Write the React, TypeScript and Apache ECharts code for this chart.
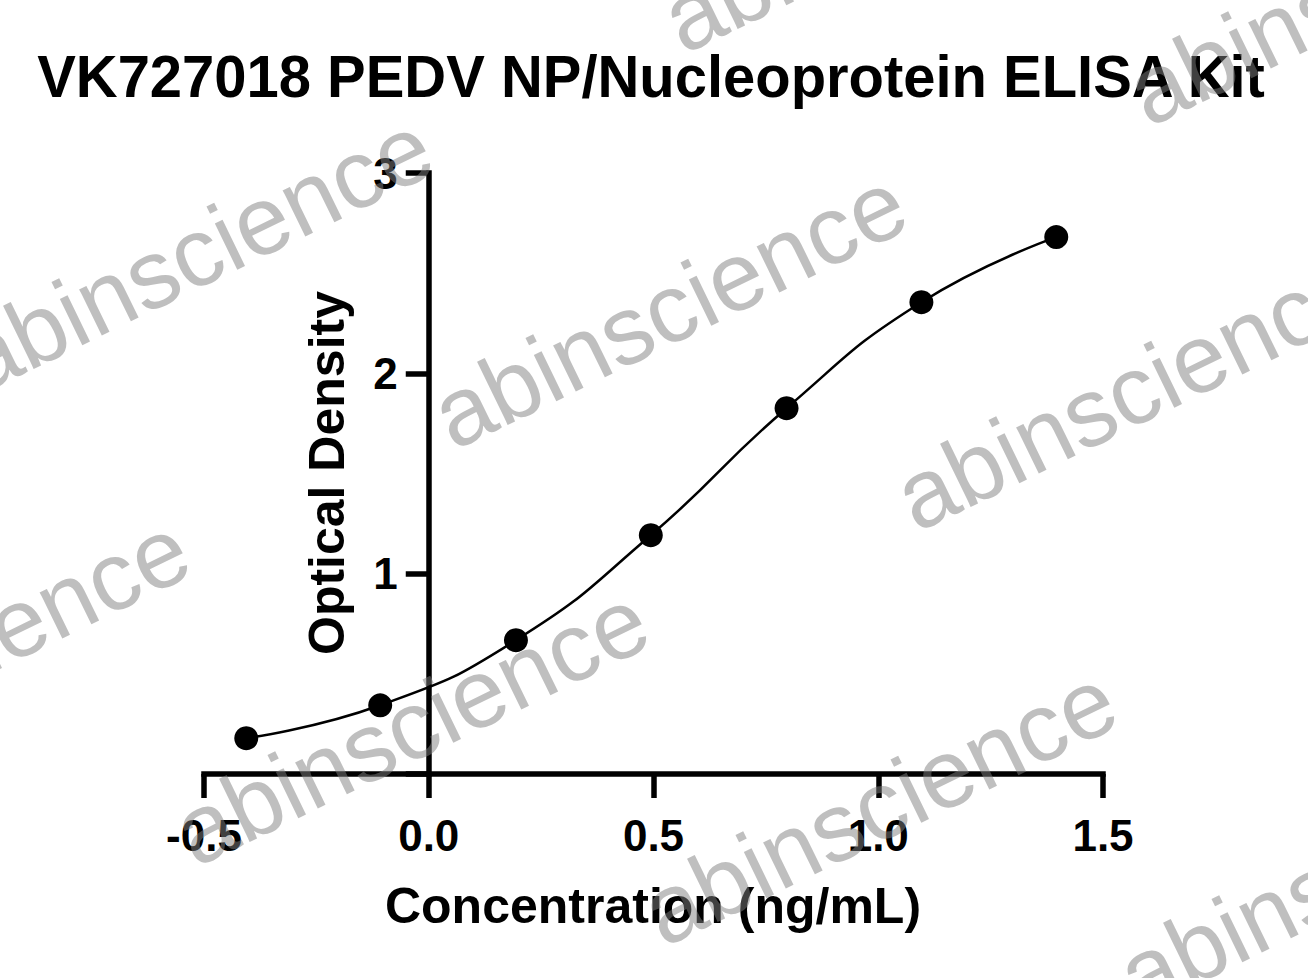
import React, { useEffect, useRef } from "react";
import * as echarts from "echarts";

// log10 of concentration (ng/mL) and the measured OD
const logConcentration = [-0.406, -0.108, 0.194, 0.494, 0.796, 1.096, 1.396];
const opticalDensity = [0.179, 0.343, 0.668, 1.192, 1.826, 2.355, 2.68];

const titleText = "VK727018 PEDV NP/Nucleoprotein ELISA Kit";
const xName = "Concentration (ng/mL)";
const yName = "Optical Density";
const watermarkText = "abinscience";

// centres of the rotated watermark words
const watermarkSpots = [
  [195, 253], [669, 309], [1132, 391],
  [899, -87], [1364, -14],
  [-48, 655], [411, 726], [879, 806], [1355, 870],
];

const FONT = '"Liberation Sans", Arial, sans-serif';

const App: React.FC = () => {
  const chartRef = useRef<HTMLDivElement | null>(null);

  useEffect(() => {
    document.body.style.margin = "0";
    if (!chartRef.current) return;
    const chart = echarts.init(chartRef.current, undefined, { renderer: "svg" });

    const marks: any[] = watermarkSpots.map(([x, y]) => ({
      type: "text",
      x,
      y,
      rotation: (26 * Math.PI) / 180,
      z: 100,
      silent: true,
      style: {
        text: watermarkText,
        fontFamily: FONT,
        fontSize: 97,
        fill: "rgba(128,128,128,0.5)",
        align: "center",
        verticalAlign: "middle",
      },
    }));

    chart.setOption({
      animation: false,
      backgroundColor: "#ffffff",
      grid: { left: 204, right: 205, top: 173, bottom: 204, containLabel: false },
      xAxis: {
        type: "value",
        min: -0.5,
        max: 1.5,
        interval: 0.5,
        splitLine: { show: false },
        axisLine: { lineStyle: { color: "#000", width: 5.5, cap: "square" } },
        axisTick: { length: 24, lineStyle: { color: "#000", width: 5.5 } },
        axisLabel: {
          margin: 39,
          color: "#000",
          fontFamily: FONT,
          fontWeight: "bold",
          fontSize: 44,
          formatter: (v: number) => v.toFixed(1),
        },
      },
      yAxis: {
        type: "value",
        min: 0,
        max: 3,
        interval: 1,
        // move the whole axis (line, ticks, labels) to x = 0
        offset: -224.75,
        splitLine: { show: false },
        axisLine: { onZero: false, lineStyle: { color: "#000", width: 5.5, cap: "square" } },
        axisTick: { length: 23, lineStyle: { color: "#000", width: 5.5 } },
        axisLabel: {
          margin: 31,
          color: "#000",
          fontFamily: FONT,
          fontWeight: "bold",
          fontSize: 44,
          formatter: (v: number) => (v === 0 ? "" : String(v)),
        },
      },
      graphic: [
        {
          type: "text",
          x: 651,
          y: 76,
          scaleX: 0.982,
          style: {
            text: titleText,
            fontFamily: FONT,
            fontWeight: "bold",
            fontSize: 59,
            fill: "#000",
            align: "center",
            verticalAlign: "middle",
          },
        },
        {
          type: "text",
          x: 653,
          y: 906,
          style: {
            text: xName,
            fontFamily: FONT,
            fontWeight: "bold",
            fontSize: 50,
            fill: "#000",
            align: "center",
            verticalAlign: "middle",
          },
        },
        {
          type: "text",
          x: 327,
          y: 473,
          rotation: Math.PI / 2,
          style: {
            text: yName,
            fontFamily: FONT,
            fontWeight: "bold",
            fontSize: 50,
            fill: "#000",
            align: "center",
            verticalAlign: "middle",
          },
        },
        ...marks,
      ],
      series: [
        {
          type: "line",
          data: logConcentration.map((x, i) => [x, opticalDensity[i]]),
          smooth: 0.5,
          symbol: "circle",
          symbolSize: 24,
          itemStyle: { color: "#000" },
          lineStyle: { color: "#000", width: 2.5 },
        },
      ],
    });

    return () => {
      chart.dispose();
    };
  }, []);

  return <div ref={chartRef} style={{ width: 1308, height: 978 }}></div>;
};

export default App;
